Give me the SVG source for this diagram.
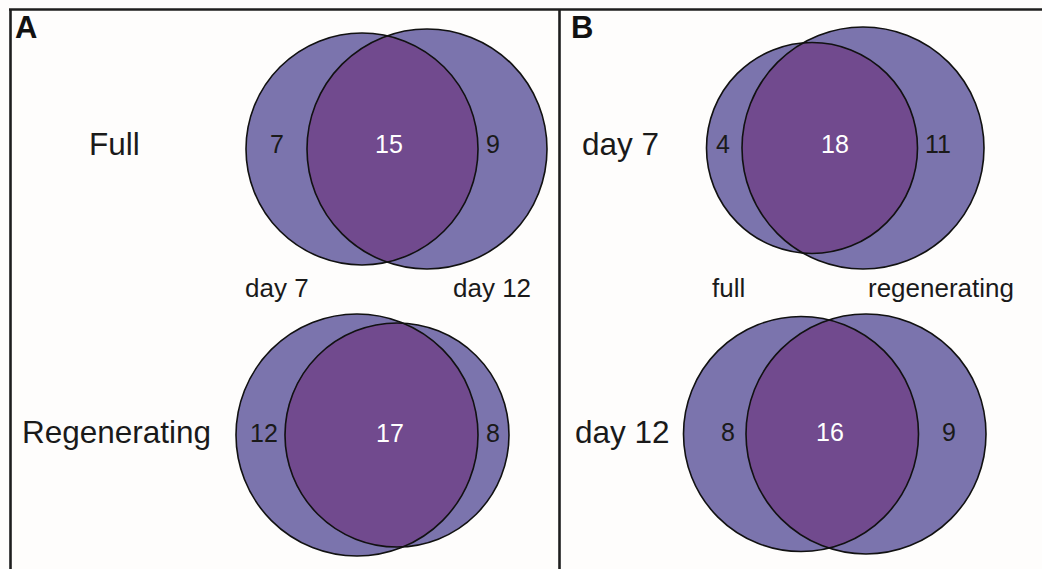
<svg xmlns="http://www.w3.org/2000/svg" width="1042" height="569" viewBox="0 0 1042 569">
<style>
.frame{stroke:#1e1e1e;stroke-width:2.6;fill:none}
.set{fill:#7b74ad}
.lens{fill:#714a8e}
.ring{fill:none;stroke:#111;stroke-width:1.6}
.lab{font-family:"Liberation Sans",Arial,sans-serif;fill:#1a1a1a}
.big{font-size:31.5px}
.col{font-size:26px}
.num{font-size:25px;text-anchor:middle}
.in{fill:#ffffff}
.panel{font-family:"Liberation Sans",Arial,sans-serif;font-size:31px;font-weight:bold;fill:#111}
</style>
<rect width="1042" height="569" fill="#fefdfc"/>
<g id="frame">
<line class="frame" x1="9" y1="9.5" x2="1042" y2="9.5"/>
<line class="frame" x1="10.5" y1="9" x2="10.5" y2="569"/>
<line class="frame" x1="559.5" y1="9" x2="559.5" y2="569"/>
</g>
<text class="panel" x="15" y="38">A</text>
<text class="panel" x="571" y="38">B</text>
<g id="labels">
<text class="lab big" x="89" y="155">Full</text>
<text class="lab big" x="22" y="443">Regenerating</text>
<text class="lab col" x="245" y="297">day 7</text>
<text class="lab col" x="453" y="297">day 12</text>
<text class="lab big" x="582" y="155">day 7</text>
<text class="lab big" x="575" y="443">day 12</text>
<text class="lab col" x="712" y="297">full</text>
<text class="lab col" x="868" y="297">regenerating</text>
</g>
<g id="venn-a-full">
<circle class="set" cx="362" cy="149" r="116"/>
<circle class="set" cx="427" cy="149" r="120"/>
<path class="lens" d="M387.2,35.8 A116,116 0 0 1 387.2,262.2 A120,120 0 0 1 387.2,35.8 Z"/>
<circle class="ring" cx="362" cy="149" r="116"/>
<circle class="ring" cx="427" cy="149" r="120"/>
<text class="lab num" x="277" y="153">7</text>
<text class="lab num in" x="389" y="153">15</text>
<text class="lab num" x="493" y="153">9</text>
</g>
<g id="venn-a-regenerating">
<circle class="set" cx="357" cy="435" r="121"/>
<circle class="set" cx="397" cy="435" r="112"/>
<path class="lens" d="M403.2,323.2 A121,121 0 0 1 403.2,546.8 A112,112 0 1 1 403.2,323.2 Z"/>
<circle class="ring" cx="357" cy="435" r="121"/>
<circle class="ring" cx="397" cy="435" r="112"/>
<text class="lab num" x="264" y="442">12</text>
<text class="lab num in" x="390" y="442">17</text>
<text class="lab num" x="493" y="442">8</text>
</g>
<g id="venn-b-day7">
<circle class="set" cx="812" cy="148" r="105.5"/>
<circle class="set" cx="863" cy="148" r="121"/>
<path class="lens" d="M803.1,42.9 A105.5,105.5 0 1 1 803.1,253.1 A121,121 0 0 1 803.1,42.9 Z"/>
<circle class="ring" cx="812" cy="148" r="105.5"/>
<circle class="ring" cx="863" cy="148" r="121"/>
<text class="lab num" x="723" y="153">4</text>
<text class="lab num in" x="835" y="153">18</text>
<text class="lab num" x="938" y="153">11</text>
</g>
<g id="venn-b-day12">
<circle class="set" cx="801" cy="434" r="117.5"/>
<circle class="set" cx="866" cy="434" r="120"/>
<path class="lens" d="M828.9,319.9 A117.5,117.5 0 0 1 828.9,548.1 A120,120 0 0 1 828.9,319.9 Z"/>
<circle class="ring" cx="801" cy="434" r="117.5"/>
<circle class="ring" cx="866" cy="434" r="120"/>
<text class="lab num" x="728" y="441">8</text>
<text class="lab num in" x="830" y="441">16</text>
<text class="lab num" x="949" y="441">9</text>
</g>
<g id="connectors"/>
</svg>
